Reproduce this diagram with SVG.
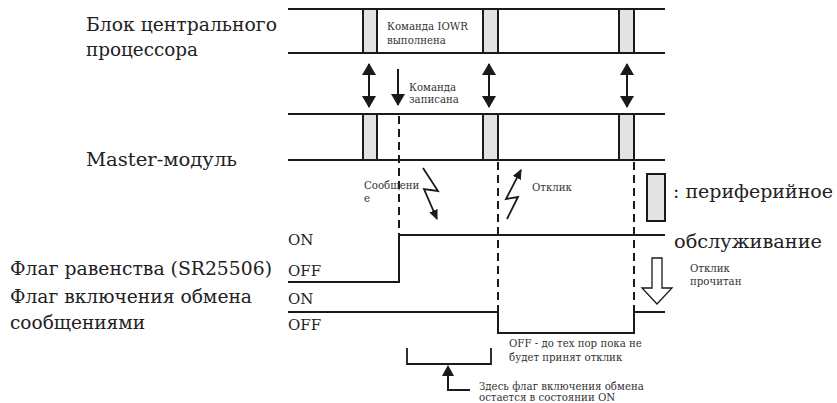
<svg xmlns="http://www.w3.org/2000/svg" width="837" height="403" viewBox="0 0 837 403">
<style>
.big{font-family:"DejaVu Serif","Liberation Serif",serif;font-size:18px;fill:#222}
.lvl{font-family:"DejaVu Serif","Liberation Serif",serif;font-size:15px;fill:#222}
.sm{font-family:"DejaVu Serif","Liberation Serif",serif;font-size:10.2px;fill:#333}
.ln{stroke:#1a1a1a;stroke-width:2;fill:none}
.th{stroke:#1a1a1a;stroke-width:1.8;fill:none}
.dash{stroke:#1a1a1a;stroke-width:2;fill:none;stroke-dasharray:8 5}
.slot{fill:#e3e3e3;stroke:#1a1a1a;stroke-width:2}
</style>
<defs>
<marker id="ah" viewBox="0 0 12 14" refX="11" refY="7" markerWidth="12" markerHeight="14" markerUnits="userSpaceOnUse" orient="auto-start-reverse">
<path d="M0,0 L12,7 L0,14 z" fill="#1a1a1a"/>
</marker>
<marker id="ahs" viewBox="0 0 10 9" refX="9" refY="4.5" markerWidth="10" markerHeight="9" markerUnits="userSpaceOnUse" orient="auto">
<path d="M0,0 L10,4.5 L0,9 z" fill="#1a1a1a"/>
</marker>
</defs>

<g id="labels">
<text class="big" x="86" y="31" textLength="191" lengthAdjust="spacingAndGlyphs">Блок центрального</text>
<text class="big" x="86" y="56" textLength="112" lengthAdjust="spacingAndGlyphs">процессора</text>
<text class="big" x="86" y="166" textLength="151" lengthAdjust="spacingAndGlyphs">Master-модуль</text>
<text class="big" x="10" y="275" textLength="262" lengthAdjust="spacingAndGlyphs">Флаг равенства (SR25506)</text>
<text class="big" x="10" y="303" textLength="242" lengthAdjust="spacingAndGlyphs">Флаг включения обмена</text>
<text class="big" x="10" y="329" textLength="135" lengthAdjust="spacingAndGlyphs">сообщениями</text>
</g>

<g id="cpu-row">
<line class="ln" x1="288" y1="9" x2="665" y2="9"/>
<line class="ln" x1="288" y1="53" x2="665" y2="53"/>
<rect class="slot" x="363" y="9" width="14" height="44"/>
<rect class="slot" x="483" y="9" width="15" height="44"/>
<rect class="slot" x="619" y="9" width="15" height="44"/>
<text class="sm" x="387" y="30">Команда IOWR</text>
<text class="sm" x="387" y="44">выполнена</text>
</g>

<g id="master-row">
<line class="ln" x1="288" y1="114" x2="665" y2="114"/>
<line class="ln" x1="288" y1="160" x2="665" y2="160"/>
<rect class="slot" x="363" y="114" width="14" height="46"/>
<rect class="slot" x="483" y="114" width="15" height="46"/>
<rect class="slot" x="619" y="114" width="15" height="46"/>
</g>

<g id="equality-flag">
<text class="lvl" x="288" y="245">ON</text>
<text class="lvl" x="288" y="276">OFF</text>
<polyline class="ln" points="288,282 399,282 399,235 665,235"/>
</g>

<g id="message-flag">
<text class="lvl" x="288" y="304">ON</text>
<text class="lvl" x="288" y="330">OFF</text>
<polyline class="ln" points="288,312 498,312 498,333 634,333 634,312 665,312"/>
<text class="sm" x="509" y="347">OFF - до тех пор пока не</text>
<text class="sm" x="509" y="361">будет принят отклик</text>
</g>

<g id="legend">
<rect class="slot" x="647" y="174" width="18" height="47"/>
<text class="big" x="673" y="198" textLength="160" lengthAdjust="spacingAndGlyphs">: периферийное</text>
<text class="big" x="674" y="248" textLength="148" lengthAdjust="spacingAndGlyphs">обслуживание</text>
</g>

<g id="response-read">
<path d="M652,258 L662,258 L662,288 L672,288 L657,304 L642,288 L652,288 z" fill="#fff" stroke="#1a1a1a" stroke-width="1.3"/>
<text class="sm" x="690" y="272">Отклик</text>
<text class="sm" x="690" y="285">прочитан</text>
</g>

<g id="bracket-note">
<polyline class="th" points="407,348 407,364 491,364 491,348"/>
<polyline class="ln" points="470,390 448,390 448,375"/>
<path d="M448,365 L442,376 L454,376 z" fill="#1a1a1a"/>
<text class="sm" x="479" y="390">Здесь флаг включения обмена</text>
<text class="sm" x="479" y="401">остается в состоянии ON</text>
</g>

<g id="connectors">
<line class="ln" x1="369" y1="64" x2="369" y2="107" marker-start="url(#ah)" marker-end="url(#ah)"/>
<line class="ln" x1="489" y1="64" x2="489" y2="107" marker-start="url(#ah)" marker-end="url(#ah)"/>
<line class="ln" x1="627" y1="64" x2="627" y2="107" marker-start="url(#ah)" marker-end="url(#ah)"/>
<line class="ln" x1="398" y1="69" x2="398" y2="105" marker-end="url(#ah)"/>
<text class="sm" x="409" y="91">Команда</text>
<text class="sm" x="409" y="103">записана</text>
<line class="dash" x1="399" y1="116" x2="399" y2="235"/>
<line class="dash" x1="498" y1="162" x2="498" y2="312"/>
<line class="dash" x1="634" y1="162" x2="634" y2="312"/>
<polyline class="th" points="423,168 438,191 424,189 437,219" marker-end="url(#ahs)"/>
<text class="sm" x="364" y="189">Сообщени</text>
<text class="sm" x="364" y="202">е</text>
<polyline class="th" points="507,219 518,197 506,199 521,170" marker-end="url(#ahs)"/>
<text class="sm" x="532" y="191">Отклик</text>
</g>
</svg>
